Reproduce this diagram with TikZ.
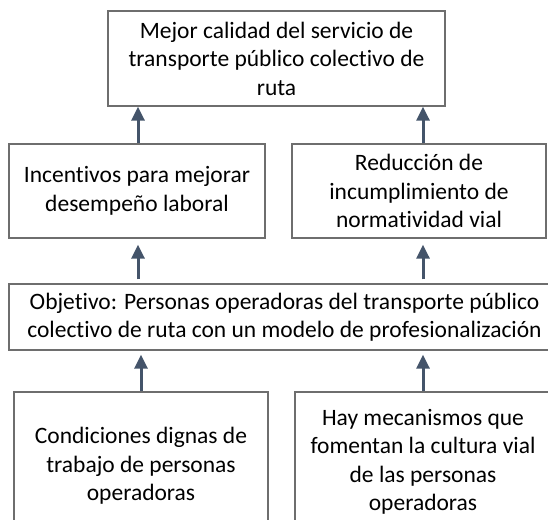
\documentclass[tikz,border=0pt]{standalone}
\usepackage{fontspec}
\setmainfont{Carlito}[Ligatures=NoCommon]
\usetikzlibrary{arrows.meta}
\definecolor{boxline}{HTML}{6E6E6E}
\definecolor{arrowcol}{HTML}{44546A}
\begin{document}
\begin{tikzpicture}[x=1pt,y=-1pt,
  txt/.style={align=center, inner sep=0pt, font=\fontsize{23.5}{28.5}\selectfont},
  box/.style={txt, draw=boxline, line width=1.3pt},
  arr/.style={draw=arrowcol, line width=3pt, -{Triangle[width=13pt,length=14pt]}}]
\useasboundingbox (0,0) rectangle (548,519);
\clip (0,0) rectangle (548,519);
\node[box, minimum width=337pt, minimum height=95pt] (top) at (276.5,58.5)
  {Mejor calidad del servicio de\\transporte público colectivo de\\ruta};
\node[box, minimum width=256pt, minimum height=94pt] (midL) at (137,191)
  {Incentivos para mejorar\\desempeño laboral};
\node[box, minimum width=254pt, minimum height=94pt] (midR) at (419,191)
  {Reducción de\\incumplimiento de\\normatividad vial};
\node[box, minimum width=551pt, minimum height=66pt] (obj) at (284.5,317)
  {Objetivo: Personas operadoras del transporte público\\colectivo de ruta con un modelo de profesionalización};
\node[box, minimum width=254pt, minimum height=148pt] (botL) at (141,466)
  {Condiciones dignas de\\trabajo de personas\\operadoras};
\node[box, minimum width=256pt, minimum height=148pt] (botR) at (423,466) {};
\node[txt] (botRtext) at ([yshift=4pt]botR.center)
  {Hay mecanismos que\\fomentan la cultura vial\\de las personas\\operadoras};
% arrows
\draw[arr] ([xshift=1pt]midL.north) -- ([xshift=1pt]midL.north |- top.south);
\draw[arr] ([xshift=4pt]midR.north) -- ([xshift=4pt]midR.north |- top.south);
\draw[arr, shorten <=4pt, shorten >=6pt] ([xshift=-146.5pt]obj.north) -- ([xshift=-146.5pt]obj.north |- midL.south);
\draw[arr, shorten <=4pt, shorten >=6pt] ([xshift=138.5pt]obj.north) -- ([xshift=138.5pt]obj.north |- midR.south);
\draw[arr, shorten >=4pt] (botL.north) -- (botL.north |- obj.south);
\draw[arr, shorten >=4pt] (botR.north) -- (botR.north |- obj.south);
\end{tikzpicture}
\end{document}
